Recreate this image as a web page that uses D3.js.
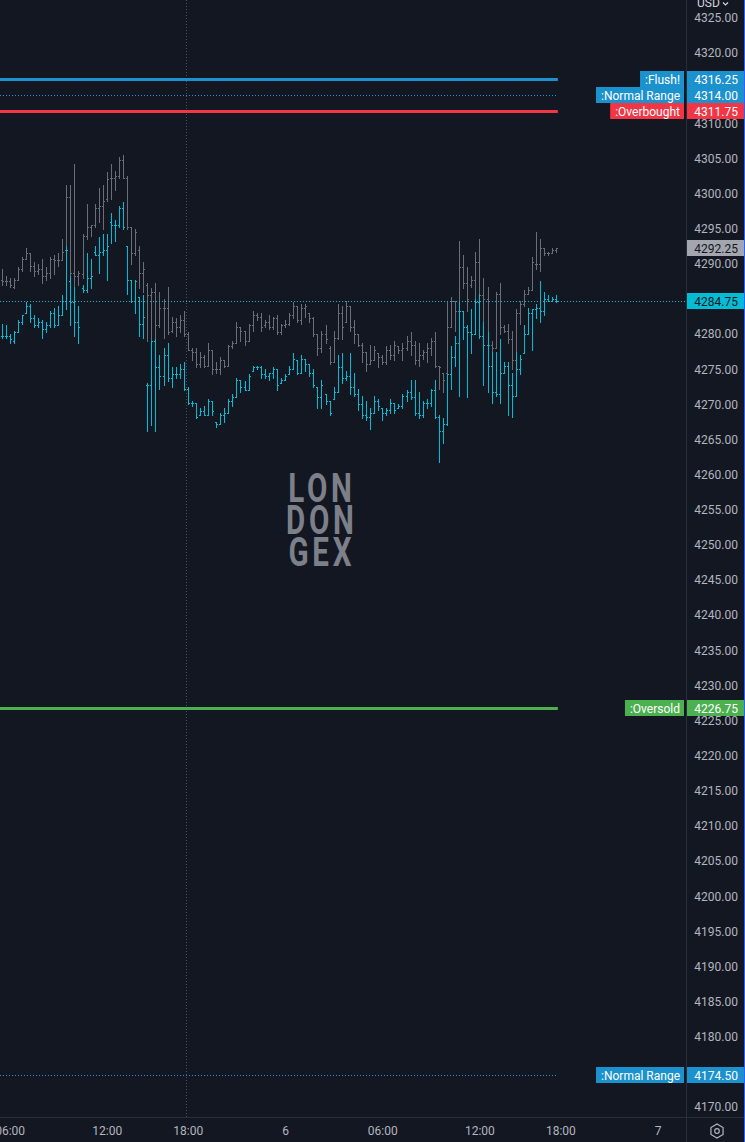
<!DOCTYPE html>
<html><head><meta charset="utf-8">
<script src="https://cdn.jsdelivr.net/npm/d3@7"></script>
<style>html,body{margin:0;padding:0;background:#131722;overflow:hidden}svg{display:block}</style>
</head><body><svg id="c" width="745" height="1142"></svg>
<script>
// ---------- DATA ----------
const grayOpen = [
4287.75,4287.5,4287.5,4286.75,4287.75,4289.25,4290.75,4291.5,4289.75,4289.0,
4289.25,4288.25,4288.75,4290.75,4290.5,4290.5,4292.0,4299.5,4288.75,4288.25,
4288.5,4294.0,4295.25,4295.5,4298.0,4298.25,4299.25,4302.25,4302.25,4302.5,
4304.75,4302.25,4295.25,4291.5,4292.0,4288.75,4287.0,4285.5,4286.0,4281.25,
4283.75,4283.75,4280.5,4281.75,4281.0,4282.0,4280.0,4277.75,4277.5,4275.75,
4276.75,4275.5,4277.75,4275.0,4275.0,4276.25,4275.5,4278.25,4278.75,4281.0,
4280.5,4279.0,4281.25,4282.75,4282.5,4281.25,4281.75,4281.0,4282.25,4280.25,
4281.25,4281.5,4282.75,4284.0,4282.0,4283.75,4283.0,4282.25,4280.0,4278.0,
4280.0,4278.0,4276.0,4279.5,4283.0,4281.75,4284.0,4281.0,4280.0,4278.5,
4277.5,4275.75,4276.25,4277.25,4276.75,4276.0,4277.75,4277.0,4278.25,4277.75,
4278.0,4279.0,4278.5,4276.25,4277.0,4277.5,4278.0,4279.0,4275.5,4274.5,
4274.5,4281.0,4284.75,4283.25,4289.5,4287.25,4287.0,4287.75,4290.25,4285.5,
4285.0,4278.5,4278.0,4285.75,4281.0,4280.5,4279.25,4276.25,4283.0,4284.25,
4285.75,4286.25,4290.0,4290.0,4292.25,4291.5,4291.5,4292.0];
const grayHigh = [
4289.25,4288.25,4288.0,4288.0,4289.5,4291.0,4292.25,4291.5,4290.25,4290.0,
4290.75,4289.5,4291.0,4291.25,4291.5,4293.5,4301.25,4301.25,4304.25,4289.0,
4294.25,4298.5,4295.5,4298.5,4300.75,4301.25,4303.0,4304.25,4303.25,4305.25,
4305.5,4302.5,4295.25,4295.0,4292.5,4290.25,4287.25,4286.5,4287.25,4286.0,
4285.0,4286.75,4282.5,4282.25,4282.75,4283.25,4280.25,4278.0,4278.0,4277.5,
4277.0,4278.75,4277.75,4276.0,4276.75,4276.25,4278.5,4279.0,4281.75,4281.0,
4280.5,4281.5,4283.25,4283.0,4283.0,4282.0,4282.75,4282.5,4282.75,4281.5,
4282.0,4283.0,4284.5,4284.0,4284.25,4284.25,4283.0,4282.5,4280.0,4280.5,
4281.25,4278.25,4280.5,4284.25,4284.0,4284.75,4284.0,4282.0,4280.0,4278.75,
4277.5,4278.5,4278.25,4277.25,4277.0,4278.25,4278.5,4279.0,4278.25,4278.75,
4279.75,4280.25,4279.0,4278.75,4277.75,4278.75,4279.5,4280.25,4275.5,4274.5,
4284.75,4285.25,4284.75,4293.25,4291.25,4289.5,4288.25,4291.75,4293.5,4288.0,
4286.75,4279.0,4286.0,4287.25,4281.25,4281.5,4280.5,4283.5,4284.75,4286.25,
4286.75,4291.0,4294.5,4293.5,4292.25,4291.75,4292.25,4292.25];
const grayLow = [
4287.0,4287.0,4286.75,4286.5,4287.75,4289.0,4290.75,4289.0,4288.25,4288.5,
4287.25,4287.75,4288.0,4288.5,4289.75,4290.5,4291.75,4287.5,4286.0,4287.0,
4288.0,4293.5,4294.0,4295.25,4296.0,4295.0,4299.0,4299.25,4300.5,4302.25,
4302.25,4295.0,4290.0,4291.25,4286.5,4286.0,4279.0,4279.0,4279.25,4281.0,
4279.5,4280.0,4280.25,4279.75,4280.25,4279.75,4277.75,4276.25,4275.25,4275.25,
4275.25,4275.5,4274.25,4274.5,4274.25,4275.25,4275.5,4278.0,4278.75,4279.0,
4278.5,4279.0,4280.5,4282.0,4280.5,4281.0,4280.75,4280.75,4280.0,4280.0,
4281.0,4281.25,4282.25,4281.75,4281.5,4282.5,4281.75,4279.75,4277.0,4277.5,
4278.75,4275.75,4276.0,4279.25,4279.25,4281.75,4280.5,4278.75,4278.25,4276.0,
4274.75,4275.75,4276.25,4275.25,4275.75,4275.75,4276.5,4276.25,4277.25,4276.25,
4277.75,4277.0,4275.75,4275.5,4276.5,4276.0,4277.0,4275.25,4272.25,4271.75,
4274.5,4281.0,4280.5,4283.25,4286.5,4283.25,4286.75,4283.0,4279.75,4278.75,
4278.0,4277.25,4278.0,4280.0,4280.25,4278.75,4275.0,4276.25,4281.5,4284.0,
4285.75,4286.25,4289.25,4289.0,4291.25,4291.25,4291.5,4291.75];
const grayClose = [
4287.5,4287.5,4287.0,4287.75,4289.25,4290.75,4291.5,4289.75,4289.0,4289.25,
4288.25,4288.75,4290.75,4290.5,4290.5,4291.75,4299.5,4288.75,4288.25,4288.75,
4294.0,4295.25,4295.5,4298.0,4298.25,4299.0,4302.0,4302.25,4302.5,4304.75,
4302.25,4295.25,4291.5,4294.5,4288.75,4289.25,4285.5,4286.0,4281.25,4283.75,
4283.75,4280.25,4281.75,4281.0,4282.0,4280.0,4277.75,4277.5,4275.75,4276.75,
4275.5,4277.75,4275.0,4275.0,4276.25,4275.5,4278.25,4278.75,4281.0,4280.5,
4279.0,4281.25,4282.75,4282.5,4281.0,4281.75,4281.0,4282.25,4280.25,4281.25,
4281.5,4282.75,4284.0,4282.0,4283.75,4284.0,4282.25,4280.0,4278.0,4280.0,
4279.25,4276.0,4279.5,4283.0,4281.0,4284.0,4281.0,4280.0,4278.5,4277.5,
4275.75,4276.25,4277.75,4276.75,4276.0,4277.75,4277.0,4278.5,4277.75,4278.0,
4279.0,4278.5,4276.25,4277.0,4277.5,4278.0,4279.0,4275.5,4275.25,4273.5,
4281.0,4284.75,4283.25,4289.5,4287.25,4285.0,4287.75,4290.25,4285.5,4285.0,
4278.5,4278.0,4285.75,4281.0,4280.5,4279.25,4276.25,4283.0,4284.25,4285.75,
4286.25,4290.25,4290.0,4292.25,4291.5,4291.5,4292.0,4292.25];

const cyanOpen = [
4279.75,4279.75,4279.75,4279.0,4280.25,4281.75,4283.0,4284.0,4282.25,4281.25,
4281.75,4280.75,4281.25,4283.0,4281.25,4282.75,4284.75,4287.5,4284.5,4281.75,
4286.5,4286.25,4288.0,4291.75,4291.25,4291.75,4292.0,4296.0,4295.5,4295.5,
4298.0,4292.5,4287.75,4284.75,4285.25,4281.5,4272.75,4272.75,4279.0,4275.25,
4274.0,4277.0,4273.75,4274.25,4274.25,4275.0,4272.25,4270.25,4270.25,4268.5,
4269.0,4268.5,4270.5,4267.5,4267.25,4268.5,4268.75,4270.5,4271.0,4273.5,
4272.5,4272.0,4274.75,4275.25,4275.25,4274.25,4274.0,4274.5,4275.0,4273.0,
4273.5,4274.25,4275.0,4276.25,4274.5,4276.5,4275.75,4274.5,4272.5,4271.0,
4271.5,4270.5,4270.75,4271.75,4275.25,4273.75,4274.0,4272.5,4271.5,4270.0,
4268.5,4268.25,4268.75,4270.5,4269.5,4268.75,4269.25,4270.25,4269.5,4269.75,
4271.25,4271.75,4271.0,4268.75,4268.5,4270.25,4270.25,4272.0,4268.25,4266.25,
4267.25,4274.25,4276.75,4278.75,4283.25,4281.0,4280.25,4280.0,4284.5,4279.75,
4278.5,4275.5,4271.75,4271.5,4274.5,4275.5,4272.75,4271.25,4275.0,4277.25,
4280.0,4283.0,4283.5,4283.75,4283.25,4285.0,4284.75,4285.0];
const cyanHigh = [
4281.5,4281.25,4280.0,4280.5,4282.0,4282.75,4284.5,4284.25,4282.75,4282.25,
4282.0,4281.75,4283.25,4283.75,4284.0,4285.5,4292.5,4288.25,4286.75,4284.0,
4287.0,4291.5,4290.75,4292.5,4293.75,4294.25,4294.25,4297.25,4296.25,4298.25,
4298.75,4292.5,4287.75,4287.75,4285.25,4285.5,4273.0,4279.0,4279.25,4277.0,
4278.0,4278.75,4275.25,4275.25,4275.75,4276.0,4272.5,4270.5,4270.25,4269.5,
4269.75,4270.75,4270.5,4267.5,4268.75,4269.5,4270.75,4271.5,4273.75,4273.5,
4273.25,4274.25,4275.5,4275.5,4275.5,4275.0,4274.5,4275.25,4275.0,4273.75,
4274.25,4275.5,4277.25,4276.25,4277.0,4276.5,4275.75,4275.0,4272.5,4273.5,
4271.5,4270.5,4272.5,4277.0,4277.25,4274.75,4277.25,4274.5,4272.25,4271.25,
4270.5,4269.5,4271.25,4270.75,4269.5,4269.5,4270.75,4270.25,4270.0,4271.5,
4272.0,4273.5,4273.5,4271.75,4270.5,4270.75,4272.25,4273.5,4268.5,4268.0,
4274.25,4278.25,4279.75,4284.75,4283.25,4281.25,4283.5,4285.0,4285.75,4281.75,
4280.25,4277.5,4277.5,4279.25,4276.0,4276.0,4274.5,4277.5,4277.0,4281.25,
4283.75,4283.5,4284.25,4287.5,4286.0,4285.5,4285.25,4285.5];
const cyanLow = [
4279.5,4279.5,4278.75,4278.75,4280.25,4281.5,4283.0,4281.75,4281.0,4281.0,
4279.5,4280.25,4281.0,4281.0,4281.25,4282.75,4283.5,4281.25,4279.75,4278.75,
4286.0,4286.0,4286.5,4291.25,4288.75,4291.25,4287.75,4293.0,4293.25,4295.25,
4295.0,4285.75,4284.5,4283.0,4279.75,4279.5,4266.25,4267.0,4266.25,4272.25,
4272.75,4273.25,4272.5,4273.75,4273.75,4272.0,4270.0,4269.75,4268.0,4268.5,
4268.5,4268.5,4268.5,4266.75,4267.25,4267.5,4268.75,4269.75,4271.0,4271.75,
4272.0,4272.0,4274.75,4275.0,4273.75,4273.75,4273.5,4273.75,4272.0,4273.0,
4273.5,4274.25,4275.0,4274.25,4274.5,4274.75,4274.0,4272.5,4269.5,4269.5,
4270.0,4268.5,4270.75,4271.75,4273.0,4273.5,4271.5,4271.25,4269.25,4268.0,
4267.75,4266.5,4268.75,4269.25,4267.75,4268.5,4268.75,4268.75,4269.5,4269.5,
4270.5,4270.75,4268.5,4268.0,4268.25,4269.5,4269.75,4268.0,4261.75,4264.5,
4267.0,4272.25,4275.5,4271.25,4279.25,4271.0,4277.25,4280.0,4279.5,4272.75,
4271.75,4270.25,4271.25,4270.25,4274.5,4268.5,4268.25,4271.25,4274.25,4277.25,
4280.0,4277.75,4282.25,4281.75,4282.75,4284.75,4284.75,4284.5];
const cyanClose = [
4279.75,4279.75,4279.25,4280.25,4281.75,4282.75,4284.0,4282.25,4281.25,4281.75,
4280.75,4281.25,4283.0,4281.25,4282.75,4284.75,4292.0,4284.5,4281.75,4281.0,
4286.25,4288.0,4288.25,4291.25,4291.75,4292.0,4292.5,4295.5,4295.5,4298.0,
4295.25,4287.75,4284.75,4287.5,4281.5,4282.5,4272.75,4279.0,4275.25,4274.0,
4277.0,4273.75,4274.25,4274.25,4275.0,4272.25,4270.25,4270.25,4268.25,4269.0,
4268.5,4270.5,4269.0,4267.25,4268.5,4268.75,4270.5,4271.0,4273.5,4272.5,
4272.0,4274.0,4275.25,4275.25,4274.25,4274.0,4274.5,4275.0,4272.75,4273.5,
4274.0,4275.0,4276.5,4274.5,4276.5,4275.75,4274.5,4272.75,4271.0,4272.75,
4270.5,4268.75,4271.75,4275.25,4273.75,4274.0,4272.5,4271.5,4270.0,4268.5,
4268.25,4268.75,4270.5,4269.75,4268.75,4269.25,4270.25,4269.25,4269.75,4271.25,
4271.75,4271.0,4268.75,4268.5,4270.25,4270.25,4272.0,4268.25,4266.25,4267.25,
4274.25,4276.75,4278.75,4283.25,4281.0,4280.25,4280.0,4284.5,4279.75,4278.5,
4275.5,4271.75,4271.5,4274.5,4275.5,4272.75,4271.25,4275.0,4276.5,4280.0,
4283.0,4283.5,4283.75,4283.25,4285.0,4284.75,4285.0,4284.75];

const levelNames  = [":Flush!", ":Normal Range", ":Overbought", ":Oversold", ":Normal Range"];
const levelValues = [4316.25, 4314.00, 4311.75, 4226.75, 4174.50];

const timeTickIndex  = [2, 26, 46, 70, 94, 118, 138, 162];
const timeTickLabels = ["06:00", "12:00", "18:00", "6", "06:00", "12:00", "18:00", "7"];
const sessionBreakIndex = [45.5];

const priceTicks = d3.range(4170, 4326, 5);
const currencyLabel = "USD";
const watermarkLines = ["LON", "DON", "GEX"];

// ---------- STYLE ----------
const BG = "#131722", AXIS_TXT = "#b2b5be", GRID_LINE = "#2a2e39";
const GRAY = "#6b6e79", CYAN = "#00bcd4";
const levelStyle = [
  {color:"#1b91cd", dash:null, w:3},
  {color:"#1b91cd", dash:"1,2", w:1},
  {color:"#f23645", dash:null, w:3},
  {color:"#4caf50", dash:null, w:3},
  {color:"#1b91cd", dash:"1,2", w:1}
];
const FONT = "Roboto, 'Noto Sans', sans-serif";

const W = 745, H = 1142, PLOT_R = 686, PLOT_B = 1117;
const svg = d3.select("#c");
svg.append("rect").attr("width", W).attr("height", H).attr("fill", BG);

const y = d3.scaleLinear().domain([4170, 4320]).range([1107, 53]);
const x = d3.scaleLinear().domain([0, 162]).range([1.5, 657.6]);

const plot = svg.append("g");
svg.append("clipPath").attr("id","pc").append("rect").attr("width",PLOT_R).attr("height",PLOT_B);
plot.attr("clip-path","url(#pc)");

// session break
plot.selectAll("line.sb").data(sessionBreakIndex).join("line")
  .attr("x1", d => Math.round(x(d)) + 0.5).attr("x2", d => Math.round(x(d)) + 0.5)
  .attr("y1", 0).attr("y2", H)
  .attr("stroke", "#4a4e5a").attr("stroke-dasharray", "1,2");

// watermark: one text block with three lines
const wmText = plot.append("text").attr("transform", "translate(320,502) scale(0.74,1)")
  .attr("text-anchor", "middle").attr("font-family", FONT).attr("font-weight", 700)
  .attr("font-size", 40).attr("letter-spacing", 5).attr("fill", "#7d8089");
wmText.selectAll("tspan").data(watermarkLines).join("tspan")
  .attr("x", 2.5).attr("dy", (d, k) => k ? 32 : 0).text(d => d);

// level lines
const lastX = x(grayOpen.length - 1) + 1.5;
plot.selectAll("line.lvl").data(levelValues).join("line")
  .attr("x1", 0).attr("x2", lastX)
  .attr("y1", d => Math.round(y(d)) + 0.5).attr("y2", d => Math.round(y(d)) + 0.5)
  .attr("stroke", (d,i) => levelStyle[i].color)
  .attr("stroke-width", (d,i) => levelStyle[i].w)
  .attr("stroke-dasharray", (d,i) => levelStyle[i].dash);

// bars
function drawBars(O, Hh, L, C, color) {
  const g = plot.append("g").attr("stroke", color).attr("stroke-width", 1).attr("fill", "none");
  g.selectAll("path").data(d3.range(O.length)).join("path")
    .attr("d", i => {
      const xi = Math.round(x(i)), xc = xi + 0.5;
      const yh = Math.round(y(Hh[i])), yl = Math.round(y(L[i])) + 1;
      const yo = Math.round(y(O[i])) + 0.5, yc = Math.round(y(C[i])) + 0.5;
      return `M${xc},${yh}V${yl}M${xi-1},${yo}H${xi+1}M${xi},${yc}H${xi+2}`;
    });
}
drawBars(grayOpen, grayHigh, grayLow, grayClose, GRAY);
drawBars(cyanOpen, cyanHigh, cyanLow, cyanClose, CYAN);

// last price line (cyan)
const lastCyan = cyanClose[cyanClose.length - 1];
const lastGray = grayClose[grayClose.length - 1];
svg.append("line").attr("x1", 0).attr("x2", PLOT_R)
  .attr("y1", Math.round(y(lastCyan)) + 0.5).attr("y2", Math.round(y(lastCyan)) + 0.5)
  .attr("stroke", CYAN).attr("stroke-dasharray", "1,2");

// axes separators
svg.append("line").attr("x1", PLOT_R + 0.5).attr("x2", PLOT_R + 0.5).attr("y1", 0).attr("y2", H).attr("stroke", GRID_LINE);
svg.append("line").attr("x1", 0).attr("x2", W).attr("y1", PLOT_B + 0.5).attr("y2", PLOT_B + 0.5).attr("stroke", GRID_LINE);

// price axis: labels hidden where a price box sits on top of them
const boxValues = levelValues.concat([lastGray, lastCyan]);
const visibleTicks = priceTicks.filter(v => boxValues.every(b => Math.abs(y(v) - y(b)) > 10));
const yAxis = d3.axisRight(y).tickValues(visibleTicks).tickFormat(d3.format(".2f")).tickSize(0).tickPadding(0);
const ya = svg.append("g").attr("transform", `translate(${PLOT_R},0)`).call(yAxis);
ya.select(".domain").remove();
ya.selectAll("text").attr("x", 52).attr("text-anchor", "end").attr("fill", AXIS_TXT)
  .attr("font-family", FONT).attr("font-size", 12);

// header cover + currency
svg.append("rect").attr("x", PLOT_R + 1).attr("y", 0).attr("width", W - PLOT_R - 2).attr("height", 13).attr("fill", BG);
svg.append("text").attr("x", 697).attr("y", 7).attr("fill", "#d1d4dc").attr("font-family", FONT).attr("font-size", 12).text(currencyLabel);
svg.append("path").attr("d", "M723,2.5 L725.5,5 L728,2.5").attr("stroke", "#d1d4dc").attr("fill", "none").attr("stroke-width", 1.2);

// time axis
const xAxis = d3.axisBottom(x).tickValues(timeTickIndex).tickFormat((d,i) => timeTickLabels[i]).tickSize(0).tickPadding(0);
const xa = svg.append("g").attr("transform", `translate(0,${PLOT_B})`).call(xAxis);
xa.select(".domain").remove();
xa.selectAll("text").attr("y", 18).attr("dy", 0).attr("fill", AXIS_TXT).attr("font-family", FONT).attr("font-size", 12);

// price boxes
function priceBox(v, bg, fg) {
  const yc = y(v);
  svg.append("rect").attr("x", PLOT_R + 1).attr("y", Math.round(yc) - 8).attr("width", W - PLOT_R - 2).attr("height", 16).attr("fill", bg);
  svg.append("text").attr("x", 738).attr("y", Math.round(yc) + 4.5).attr("text-anchor", "end")
    .attr("fill", fg).attr("font-family", FONT).attr("font-size", 12).text(d3.format(".2f")(v));
}
function nameBox(name, v, bg) {
  const yc = Math.round(y(v));
  const t = svg.append("text").attr("x", 680).attr("y", yc + 4.5).attr("text-anchor", "end")
    .attr("fill", "#ffffff").attr("font-family", FONT).attr("font-size", 12).text(name);
  const w = t.node().getComputedTextLength();
  svg.insert("rect", () => t.node()).attr("x", 684 - w - 9).attr("y", yc - 8).attr("width", w + 9).attr("height", 16).attr("fill", bg);
}
levelValues.forEach((v, i) => {
  priceBox(v, levelStyle[i].color, "#ffffff");
  nameBox(levelNames[i], v, levelStyle[i].color);
});
priceBox(lastGray, "#a3a6af", "#131722");
priceBox(lastCyan, CYAN, "#131722");

// settings icon
const ic = svg.append("g").attr("transform", "translate(717,1131)").attr("fill", "none").attr("stroke", AXIS_TXT).attr("stroke-width", 1.2);
ic.append("path").attr("d", d3.range(6).map((k) => {
  const a = Math.PI/3*k + Math.PI/6; return (k ? "L" : "M") + (7*Math.cos(a)).toFixed(2) + "," + (7*Math.sin(a)).toFixed(2);
}).join("") + "Z");
ic.append("circle").attr("r", 2.3);

// right edge accent
svg.append("line").attr("x1", 744.5).attr("x2", 744.5).attr("y1", 0).attr("y2", H).attr("stroke", "#2962ff").attr("stroke-width", 1);
</script></body></html>
